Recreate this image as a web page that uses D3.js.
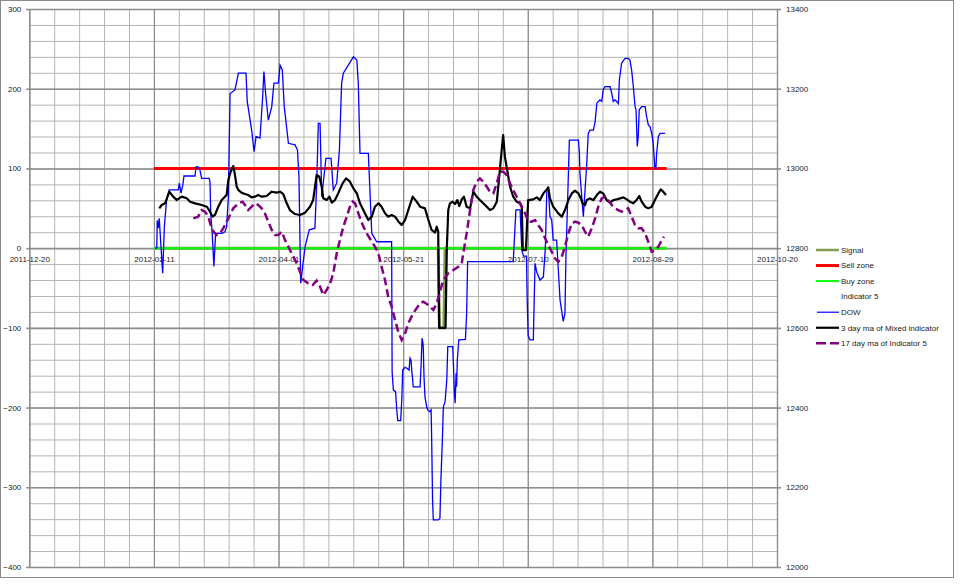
<!DOCTYPE html>
<html>
<head>
<meta charset="utf-8">
<script src="https://cdn.jsdelivr.net/npm/d3@7"></script>
<style>
  html, body { margin: 0; padding: 0; background: #fff; }
  svg text { font-family: "Liberation Sans", Arial, sans-serif; font-size: 8px; fill: #1a1a1a; }
</style>
</head>
<body>
<div id="chart"></div>
<script>
// Indicator chart: DOW (right axis) with mixed indicator, indicator 5 MA and zones (left axis)

// x tick labels (7 equally spaced ticks over 2011-12-20 .. 2012-10-20)
const tickLabels = ['2011-12-20', '2012-02-11', '2012-04-01', '2012-05-21', '2012-07-10', '2012-08-29', '2012-10-20'];

// all x positions are day offsets from 2011-12-20
const zoneDays = [50.8, 260];
const sellZone = [100, 100];
const buyZone = [0, 0];

const signalDays = [50.8, 166.8, 167.3, 169.1, 169.6, 260];
const signalVals = [0, 0, -100, -100, 0, 0];

const dowDays = [51.3, 52.0, 52.2, 52.6, 53.0, 54.4, 55.1, 56.0, 57.1, 60.8, 61.2, 61.9, 62.6, 63.1, 67.6, 68.0, 68.9, 69.6, 70.3, 73.4,
  73.7, 74.0, 74.6, 75.3, 76.0, 78.5, 79.8, 80.5, 81.2, 81.9, 83.9, 85.3, 88.4, 88.9, 90.7, 91.7, 92.5, 94.1, 95.2, 95.7,
  96.4, 97.5, 98.9, 99.8, 101.6, 102.3, 103.2, 104.0, 105.7, 108.4, 109.4, 110.0, 110.7, 112.5, 114.2, 116.5, 117.2, 117.9, 118.6, 119.3,
  121.0, 123.1, 124.0, 125.4, 126.5, 127.4, 128.1, 132.2, 133.6, 134.2, 134.9, 138.3, 139.7, 141.7, 147.8, 148.0, 148.5, 149.4, 149.9, 150.3,
  151.5, 152.0, 152.3, 153.3, 154.2, 154.9, 155.3, 155.7, 156.0, 156.4, 156.6, 159.4, 159.8, 160.2, 160.5, 160.7, 161.0, 161.4, 162.1, 162.5,
  163.4, 163.9, 164.1, 164.5, 164.8, 166.8, 167.5, 167.9, 168.5, 168.9, 169.6, 170.3, 170.7, 172.7, 173.0, 173.4, 173.7, 174.1, 174.3, 174.6,
  175.2, 177.9, 178.4, 178.8, 197.4, 198.5, 200.2, 200.9, 201.6, 202.8, 203.1, 203.5, 204.2, 205.6, 206.3, 207.0, 208.3, 209.7, 210.5, 211.1,
  211.7, 212.4, 213.1, 213.7, 215.1, 216.5, 217.8, 218.5, 218.9, 219.6, 220.3, 224.0, 224.4, 224.6, 226.0, 226.7, 227.4, 228.0, 228.7, 230.1,
  230.8, 231.5, 232.1, 232.8, 233.5, 234.1, 234.8, 236.9, 237.6, 238.2, 238.9, 239.6, 240.3, 240.7, 241.6, 243.0, 244.3, 245.0, 245.7, 246.4,
  247.1, 247.5, 248.0, 248.4, 248.8, 249.8, 251.2, 251.8, 252.5, 253.2, 253.9, 254.5, 255.2, 255.6, 255.9, 256.6, 257.3, 259.3];
const dowVals = [12800, 12800, 12870, 12850, 12875, 12737, 12854, 12921, 12946, 12946, 12963, 12938, 12958, 12981, 12981, 13004, 13004, 12996, 12975, 12975,
  12967, 12887, 12837, 12754, 12837, 12837, 12841, 12854, 12929, 13188, 13197, 13239, 13239, 13168, 13096, 13042, 13080, 13076, 13180, 13243,
  13188, 13121, 13155, 13214, 13214, 13259, 13247, 13155, 13063, 13059, 13046, 12979, 12712, 12804, 12846, 12850, 12954, 13113, 13113, 12929,
  13025, 13025, 12946, 12963, 13046, 13214, 13239, 13280, 13272, 13214, 13038, 13038, 12837, 12816, 12816, 12490, 12444, 12440, 12394, 12367,
  12367, 12427, 12494, 12501, 12498, 12494, 12524, 12519, 12494, 12469, 12452, 12452, 12503, 12574, 12565, 12553, 12478, 12427, 12402, 12394,
  12390, 12394, 12335, 12168, 12118, 12118, 12122, 12218, 12319, 12402, 12415, 12469, 12553, 12553, 12511, 12436, 12411, 12486, 12452, 12519,
  12570, 12571, 12636, 12766, 12766, 12896, 12896, 12795, 12780, 12780, 12670, 12580, 12570, 12570, 12762, 12740, 12720, 12728, 12800, 12946,
  12954, 12879, 12871, 12820, 12820, 12670, 12616, 12636, 12779, 12921, 13071, 13071, 13038, 12988, 12879, 12946, 13013, 13088, 13096, 13096,
  13117, 13163, 13168, 13172, 13168, 13197, 13205, 13205, 13188, 13168, 13172, 13168, 13163, 13222, 13264, 13276, 13276, 13272, 13247, 13205,
  13155, 13147, 13055, 13080, 13147, 13155, 13155, 13130, 13109, 13105, 13088, 13063, 13000, 13000, 13038, 13080, 13088, 13088];

const mixDays = [53.0, 54.0, 55.4, 57.1, 58.7, 60.1, 62.2, 64.2, 65.6, 67.6, 70.3, 72.4, 73.7, 74.8, 75.7, 77.1, 78.5, 79.8, 80.5, 81.2,
  81.9, 83.2, 83.9, 84.6, 85.3, 86.6, 88.0, 89.3, 90.7, 92.1, 93.4, 94.8, 96.8, 98.9, 100.9, 102.3, 103.6, 105.0, 106.3, 108.4,
  110.4, 112.5, 114.5, 115.8, 117.2, 118.3, 119.3, 119.9, 121.3, 122.4, 123.4, 124.7, 126.0, 127.8, 129.2, 130.8, 132.2, 133.6, 134.9, 136.9,
  138.3, 139.7, 141.0, 142.4, 143.7, 145.1, 146.4, 147.8, 149.2, 150.6, 151.9, 153.3, 154.6, 156.4, 158.0, 159.4, 161.4, 162.8, 164.1, 165.5,
  166.2, 166.8, 167.2, 169.8, 170.3, 170.9, 171.6, 172.7, 173.7, 174.6, 175.4, 176.4, 177.3, 178.4, 179.8, 181.1, 182.5, 183.8, 185.9, 187.9,
  189.3, 190.7, 191.7, 192.7, 193.3, 194.0, 194.7, 196.1, 197.4, 198.8, 200.2, 200.9, 201.3, 202.6, 203.1, 203.5, 205.6, 207.0, 208.3, 209.7,
  211.1, 211.7, 212.4, 213.7, 215.8, 217.2, 218.5, 219.9, 221.3, 222.6, 224.0, 225.0, 225.7, 226.7, 227.4, 228.7, 230.1, 231.5, 232.8, 234.1,
  235.5, 236.9, 238.2, 239.6, 241.0, 242.3, 243.7, 245.0, 246.4, 247.7, 248.8, 249.8, 251.2, 252.5, 253.9, 255.2, 256.6, 257.6, 258.6, 259.7];
const mixVals = [49.9, 54.1, 56.2, 70.8, 64.6, 60.4, 64.6, 62.5, 58.3, 56.2, 54.1, 52.0, 45.7, 39.5, 41.6, 52.0, 60.4, 64.6, 66.7, 85.5,
  93.8, 103.0, 91.7, 77.1, 72.9, 69.6, 67.9, 66.7, 63.7, 64.6, 66.7, 64.6, 65.4, 70.8, 69.6, 70.8, 67.9, 56.2, 47.8, 42.8,
  41.6, 44.5, 52.0, 60.4, 91.7, 89.6, 77.1, 62.5, 60.4, 64.6, 57.0, 60.4, 68.7, 81.3, 87.5, 83.4, 75.0, 68.7, 56.2, 43.7,
  35.3, 39.5, 52.0, 56.2, 52.0, 43.7, 39.5, 41.6, 39.5, 33.2, 29.0, 35.3, 47.8, 64.6, 58.3, 52.0, 49.9, 35.3, 22.8, 19.4,
  26.9, 20.7, -100, -100, -2.4, 47.8, 56.2, 58.3, 55.3, 60.3, 52.8, 61.2, 64.5, 52.0, 49.9, 70.8, 64.5, 60.3, 54.1, 47.8,
  49.9, 58.3, 89.6, 123.1, 141.9, 114.7, 102.2, 77.1, 64.5, 58.3, 56.2, 52.0, -2.4, -2.4, 35.3, 60.3, 61.2, 63.7, 60.3, 68.7,
  73.7, 76.2, 62.4, 52.0, 43.6, 39.4, 47.8, 60.3, 68.7, 72.1, 68.7, 62.4, 56.2, 54.1, 60.3, 62.4, 60.3, 66.6, 70.8, 68.7,
  60.3, 57.0, 60.3, 61.2, 62.4, 63.7, 61.2, 58.3, 56.2, 60.3, 65.4, 58.3, 52.0, 49.9, 52.0, 60.3, 68.7, 73.7, 70.8, 66.6];

const ind5MaDays = [66.9, 68.9, 70.3, 71.7, 73.0, 74.0, 75.1, 76.4, 77.8, 79.1, 80.5, 81.9, 83.2, 85.3, 87.0, 88.0, 89.3, 90.7, 92.1, 93.4,
  94.8, 96.1, 97.5, 98.9, 100.2, 101.6, 103.0, 104.3, 105.7, 107.0, 109.1, 110.4, 111.8, 113.8, 115.6, 117.2, 118.6, 119.9, 121.3, 122.7,
  124.0, 125.4, 126.7, 128.1, 129.5, 130.8, 131.9, 132.9, 134.2, 136.0, 137.6, 139.3, 141.0, 142.4, 143.7, 145.1, 146.4, 147.8, 149.2, 150.5,
  151.9, 153.3, 154.6, 156.6, 159.4, 160.7, 162.8, 164.8, 166.2, 167.5, 168.9, 170.9, 173.0, 175.0, 176.4, 177.0, 178.4, 179.8, 181.1, 182.5,
  183.8, 185.2, 186.6, 187.9, 189.3, 190.7, 192.0, 193.4, 194.7, 196.1, 197.4, 198.8, 200.2, 201.5, 202.6, 203.5, 204.9, 206.3, 207.6, 209.0,
  210.4, 211.7, 213.1, 214.4, 215.8, 217.2, 218.5, 219.9, 221.3, 222.6, 224.0, 225.3, 226.7, 228.0, 229.4, 230.8, 232.1, 233.5, 234.8, 236.2,
  237.6, 238.9, 240.3, 241.6, 243.0, 244.3, 245.7, 247.1, 248.4, 249.8, 251.2, 252.5, 253.9, 255.2, 256.6, 258.0, 258.9];
const ind5MaVals = [37.4, 39.5, 47.8, 45.7, 39.5, 29.0, 20.7, 16.5, 18.6, 24.8, 33.2, 41.6, 49.9, 56.2, 58.3, 54.1, 47.8, 52.0, 56.2, 54.1,
  49.9, 43.7, 33.2, 22.7, 16.5, 16.5, 20.7, 10.2, 1.8, -6.5, -19.1, -29.5, -40.0, -44.2, -46.3, -40.8, -48.3, -58.8, -52.5, -44.2,
  -31.6, -6.5, 10.2, 26.9, 39.5, 52.0, 58.3, 56.2, 43.7, 29.0, 18.6, 10.2, 1.8, -6.5, -23.3, -40.0, -60.9, -73.4, -90.2, -104.8,
  -115.3, -106.9, -94.3, -81.8, -69.3, -67.2, -71.3, -77.6, -69.3, -54.6, -40.0, -31.6, -27.5, -23.3, -19.1, -6.6, 18.5, 47.8, 72.9, 83.4,
  87.5, 83.4, 77.1, 70.8, 68.7, 81.3, 95.9, 95.9, 91.7, 81.3, 72.9, 64.5, 56.2, 47.8, 41.5, 33.2, 33.2, 35.3, 29.0, 22.7,
  12.3, 3.9, -4.5, -12.8, -17.0, -10.7, 1.8, 18.5, 31.1, 33.2, 31.9, 29.0, 20.6, 14.4, 24.8, 37.3, 52.0, 62.4, 64.5, 60.3,
  54.1, 49.9, 47.8, 45.7, 47.8, 49.9, 39.4, 29.0, 24.8, 24.8, 18.5, 8.1, -4.5, -2.4, 1.8, 10.2, 14.4];

const legendItems = [
  { name: 'Signal', color: '#80a050', width: 2.5 },
  { name: 'Sell zone', color: '#ff0000', width: 3 },
  { name: 'Buy zone', color: '#00ff00', width: 2 },
  { name: 'Indicator 5', color: 'none', width: 0 },
  { name: 'DOW', color: '#0000ff', width: 1.2 },
  { name: '3 day ma of Mixed indicator', color: '#000000', width: 2.2 },
  { name: '17 day ma of Indicator 5', color: '#800080', width: 2.5, dash: '10,4' }
];

const W = 960, H = 584;
const plot = { left: 29.3, right: 777, top: 9, bottom: 567 };
const startDate = new Date(2011, 11, 20);
const spanDays = 305;
const toDate = d => new Date(startDate.getTime() + d * 864e5);

const svg = d3.select('#chart').append('svg')
  .attr('width', W)
  .attr('height', H);

// outer frame
svg.append('rect')
  .attr('x', 0.5).attr('y', 0.5)
  .attr('width', 953).attr('height', 577)
  .attr('fill', '#fff')
  .attr('stroke', '#8a8a8a');

const x = d3.scaleTime().domain([startDate, toDate(spanDays)]).range([plot.left, plot.right]);
const yL = d3.scaleLinear().domain([-400, 300]).range([plot.bottom, plot.top]);
const yR = d3.scaleLinear().domain([12000, 13400]).range([plot.bottom, plot.top]);

const majorX = d3.range(7).map(i => toDate(spanDays * i / 6));
const minorX = d3.range(31).map(i => toDate(spanDays * i / 30));
const plotW = plot.right - plot.left;
const plotH = plot.bottom - plot.top;

// grid: minor horizontal / vertical
const grid = svg.append('g');
grid.append('g')
  .attr('transform', `translate(${plot.left},0)`)
  .call(d3.axisLeft(yL).tickValues(d3.range(-400, 301, 20)).tickSize(-plotW).tickFormat(''))
  .call(g => g.select('.domain').remove())
  .call(g => g.selectAll('line').attr('stroke', '#b4b4b4').attr('stroke-width', 1));
grid.append('g')
  .attr('transform', `translate(0,${plot.bottom})`)
  .call(d3.axisBottom(x).tickValues(minorX).tickSize(-plotH).tickFormat(''))
  .call(g => g.select('.domain').remove())
  .call(g => g.selectAll('line').attr('stroke', '#b4b4b4').attr('stroke-width', 1));
// major lines
grid.append('g')
  .attr('transform', `translate(0,${plot.bottom})`)
  .call(d3.axisBottom(x).tickValues(majorX).tickSize(-plotH).tickFormat(''))
  .call(g => g.select('.domain').remove())
  .call(g => g.selectAll('line').attr('stroke', '#8c8c8c').attr('stroke-width', 1.2));
grid.append('g')
  .attr('transform', `translate(${plot.left},0)`)
  .call(d3.axisLeft(yL).tickValues(d3.range(-400, 301, 100)).tickSize(-plotW).tickFormat(''))
  .call(g => g.select('.domain').remove())
  .call(g => g.selectAll('line').attr('stroke', '#8c8c8c').attr('stroke-width', 1.6));

// left axis
svg.append('g')
  .attr('transform', `translate(${plot.left},0)`)
  .call(d3.axisLeft(yL).tickValues(d3.range(-400, 301, 100)).tickSize(3).tickPadding(5).tickFormat(d3.format('d')))
  .call(g => g.select('.domain').attr('stroke', '#8c8c8c'))
  .call(g => g.selectAll('line').attr('stroke', '#8c8c8c').attr('stroke-width', 1.6))
  .call(g => g.selectAll('text').attr('font-size', null).attr('font-family', null));

// right axis
svg.append('g')
  .attr('transform', `translate(${plot.right},0)`)
  .call(d3.axisRight(yR).tickValues(d3.range(12000, 13401, 200)).tickSize(4).tickPadding(5).tickFormat(d3.format('d')))
  .call(g => g.select('.domain').attr('stroke', '#8c8c8c').attr('stroke-width', 1.2))
  .call(g => g.selectAll('line').attr('stroke', '#8c8c8c').attr('stroke-width', 1.6))
  .call(g => g.selectAll('text').attr('font-size', null).attr('font-family', null));

// date labels sit under the zero line
svg.append('g')
  .attr('transform', `translate(0,${yL(0)})`)
  .call(d3.axisBottom(x).tickValues(majorX).tickSize(0).tickPadding(8).tickFormat((d, i) => tickLabels[i]))
  .call(g => g.select('.domain').remove())
  .call(g => g.selectAll('text').attr('font-size', null).attr('font-family', null));

// series
const lineL = d3.line().x(d => x(toDate(d[0]))).y(d => yL(d[1]));
const lineR = d3.line().x(d => x(toDate(d[0]))).y(d => yR(d[1]));
const zip = (a, b) => a.map((v, i) => [v, b[i]]);

const series = svg.append('g').attr('fill', 'none');
series.append('path')
  .attr('d', lineL(zip(signalDays, signalVals)))
  .attr('stroke', legendItems[0].color).attr('stroke-width', 3);
series.append('path')
  .attr('d', lineL(zip(zoneDays, sellZone)))
  .attr('stroke', legendItems[1].color).attr('stroke-width', 3);
series.append('path')
  .attr('d', lineL(zip(zoneDays, buyZone)))
  .attr('stroke', legendItems[2].color).attr('stroke-width', 2);
series.append('path')
  .attr('d', lineR(zip(dowDays, dowVals)))
  .attr('stroke', legendItems[4].color).attr('stroke-width', 1.3);
series.append('path')
  .attr('d', lineL(zip(mixDays, mixVals)))
  .attr('stroke', legendItems[5].color).attr('stroke-width', 2.2)
  .attr('stroke-linejoin', 'round');
series.append('path')
  .attr('d', lineL(zip(ind5MaDays, ind5MaVals)))
  .attr('stroke', legendItems[6].color).attr('stroke-width', 2.5)
  .attr('stroke-dasharray', '8,4');

// legend
const legend = svg.append('g').attr('transform', 'translate(816,250)');
const rows = legend.selectAll('g')
  .data(legendItems)
  .join('g')
  .attr('transform', (d, i) => `translate(0,${i * 15.55})`);
rows.filter(d => d.color !== 'none').append('line')
  .attr('x1', d => d.name === 'DOW' ? 1 : 0).attr('x2', 23)
  .attr('y1', 0).attr('y2', 0)
  .attr('stroke', d => d.color)
  .attr('stroke-width', d => d.width)
  .attr('stroke-dasharray', d => d.dash || null);
rows.append('text')
  .attr('x', 25)
  .attr('y', 0)
  .attr('dy', '0.35em')
  .text(d => d.name);
</script>
</body>
</html>
